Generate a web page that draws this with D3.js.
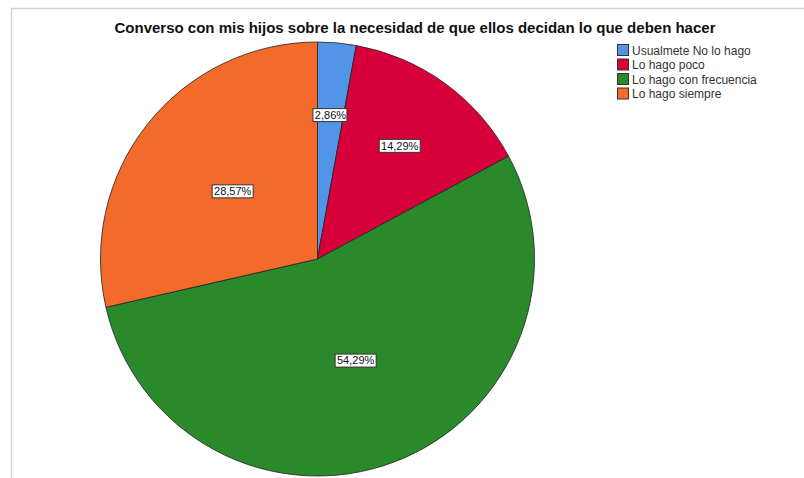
<!DOCTYPE html>
<html>
<head>
<meta charset="utf-8">
<script src="https://cdn.jsdelivr.net/npm/d3@7"></script>
<style>
  body { margin: 0; background: #fff; }
  svg { display: block; font-family: "Liberation Sans", Arial, sans-serif; }
</style>
</head>
<body>
<div id="chart"></div>
<script>
// data (counts out of 35)
var categories = ["Usualmete No lo hago", "Lo hago poco", "Lo hago con frecuencia", "Lo hago siempre"];
var counts = [1, 5, 19, 10];
var colors = ["#5294e6", "#d8003a", "#2a8a2b", "#f36a2b"];
var title = "Converso con mis hijos sobre la necesidad de que ellos decidan lo que deben hacer";

var width = 804, height = 478;
var cx = 317.5, cy = 259, radius = 217;

var svg = d3.select("#chart")
    .append("svg")
    .attr("width", width)
    .attr("height", height);

// frame lines at the top and left
svg.append("path")
    .attr("d", "M11.5," + height + "V8.5H" + width)
    .attr("fill", "none")
    .attr("stroke", "#d4d4d4")
    .attr("stroke-width", 1.5);

// title
svg.append("text")
    .attr("x", 415)
    .attr("y", 33)
    .attr("text-anchor", "middle")
    .style("font-size", "15px")
    .style("font-weight", "bold")
    .style("fill", "#111")
    .text(title);

var total = d3.sum(counts);
var pieData = d3.pie().sort(null)(counts);

var arc = d3.arc().innerRadius(0).outerRadius(radius);

var g = svg.append("g")
    .attr("transform", "translate(" + cx + "," + cy + ")");

g.selectAll("path")
    .data(pieData)
    .enter()
    .append("path")
    .attr("d", arc)
    .attr("fill", function (d, i) { return colors[i]; })
    .attr("stroke", "#222")
    .attr("stroke-width", 0.8);

// label position: sector centroid for narrow slices, half radius for wide ones
function labelPos(d) {
    var span = d.endAngle - d.startAngle;
    var mid = (d.startAngle + d.endAngle) / 2;
    var h = span / 2;
    var r = span < Math.PI / 2 ? (2 * radius * Math.sin(h)) / (3 * h) : radius / 2;
    return [r * Math.sin(mid), -r * Math.cos(mid)];
}

var fmt = function (v) {
    return (v * 100).toFixed(2).replace(".", ",") + "%";
};

var labels = g.selectAll("g.lab")
    .data(pieData)
    .enter()
    .append("g")
    .attr("class", "lab")
    .attr("transform", function (d) {
        var p = labelPos(d);
        return "translate(" + p[0] + "," + p[1] + ")";
    });

labels.append("text")
    .attr("text-anchor", "middle")
    .attr("dy", "0.35em")
    .style("font-size", "11px")
    .style("fill", "#111")
    .text(function (d) { return fmt(d.value / total); });

labels.each(function () {
    var t = d3.select(this).select("text");
    var b = t.node().getBBox();
    d3.select(this).insert("rect", "text")
        .attr("x", Math.round(b.x) - 1.5)
        .attr("y", Math.round(b.y) - 0.5)
        .attr("width", Math.round(b.width) + 3)
        .attr("height", Math.round(b.height) + 1)
        .attr("fill", "#fff")
        .attr("stroke", "#333")
        .attr("stroke-width", 1);
});

// legend
var legend = svg.append("g")
    .attr("transform", "translate(617,44)");

var rows = legend.selectAll("g")
    .data(categories)
    .enter()
    .append("g")
    .attr("transform", function (d, i) { return "translate(0," + i * 14.5 + ")"; });

rows.append("rect")
    .attr("x", 0.5)
    .attr("y", 0.5)
    .attr("width", 11)
    .attr("height", 11)
    .attr("fill", function (d, i) { return colors[i]; })
    .attr("stroke", "#333")
    .attr("stroke-width", 1);

rows.append("text")
    .attr("x", 15)
    .attr("y", 10.5)
    .style("font-size", "12px")
    .style("fill", "#333")
    .text(function (d) { return d; });
</script>
</body>
</html>
